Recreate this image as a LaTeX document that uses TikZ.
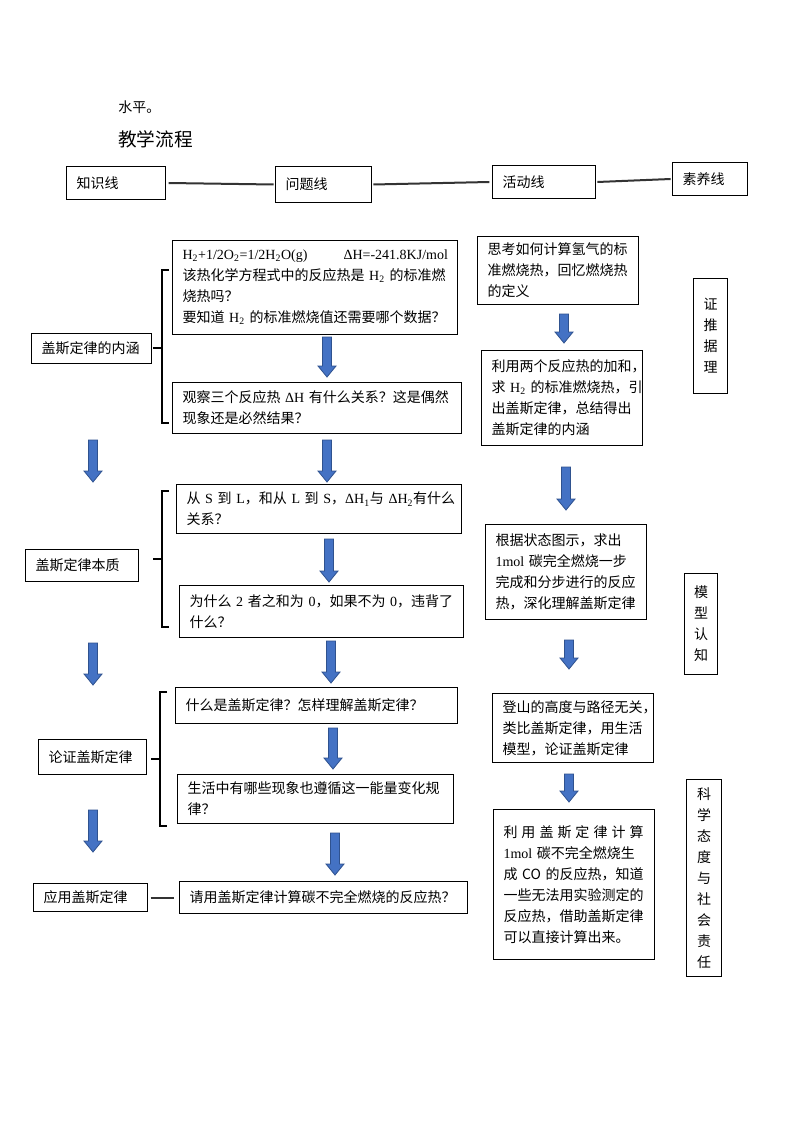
\documentclass[tikz,border=0pt]{standalone}
\usepackage{fontspec}
\setmainfont{Noto Sans CJK SC}
\newfontfamily\tm{Liberation Serif}
\definecolor{arrfill}{RGB}{68,114,196}
\definecolor{arrdraw}{RGB}{47,82,143}
\newcommand\bx[6]{%
  \pgfmathsetmacro\bxw{(#4-#2)*0.75}%
  \pgfmathsetmacro\bxh{(#5-#3)*0.75}%
  \pgfmathsetmacro\bxt{(#4-#2)*0.75-15}%
  \node[box,minimum width=\bxw pt,minimum height=\bxh pt,text width=\bxt pt,anchor=north west] (#1) at (#2,#3) {#6};}
\newcommand\cbx[6]{%
  \pgfmathsetmacro\bxw{(#4-#2)*0.75}%
  \pgfmathsetmacro\bxh{(#5-#3)*0.75}%
  \node[cbox,minimum width=\bxw pt,minimum height=\bxh pt,anchor=north west] (#1) at (#2,#3) {#6};}
\newcommand\darr[3]{%
  \draw[barr] (#1-4.5,#2) -- (#1+4.5,#2) -- (#1+4.5,#3-11) -- (#1+9,#3-11) -- (#1,#3) -- (#1-9,#3-11) -- (#1-4.5,#3-11) -- cycle;}
\begin{document}
\begin{tikzpicture}[x=0.75pt,y=-0.75pt,
  box/.style={draw=black,line width=0.75pt,inner sep=0pt,align=left,font=\fontsize{10.5}{15.75}\selectfont},
  cbox/.style={draw=black,line width=0.75pt,inner sep=0pt,align=center,font=\fontsize{10.5}{15.75}\selectfont},
  conn/.style={draw=black!80,line width=1.5pt},
  brk/.style={draw=black,line width=1.2pt},
  barr/.style={fill=arrfill,draw=arrdraw,line width=0.6pt}]
\fill[white] (0,0) rectangle (794,1123);
\useasboundingbox (0,0) rectangle (794,1123);

\node[anchor=west,inner sep=0pt,font=\fontsize{10.5}{12}\selectfont] (t0) at (118,107) {水平。};
\node[anchor=west,inner sep=0pt,font=\fontsize{14}{16}\selectfont] (t1) at (118,139) {教学流程};

% top row
\bx{zs}{66}{166}{165}{199}{知识线}
\bx{wt}{275}{166}{371}{202}{问题线}
\bx{hd}{492}{165}{595}{198}{活动线}
\bx{sy}{672}{162}{747}{195}{素养线}
\draw[conn] ([xshift=2]zs.east) -- ([xshift=-1]wt.west);
\draw[conn] ([xshift=1]wt.east) -- ([xshift=-2]hd.west);
\draw[conn] ([xshift=1]hd.east) -- ([xshift=-1]sy.west);

% left column labels
\bx{L1}{31}{333}{151}{363}{盖斯定律的内涵}
\bx{L2}{25}{549}{138}{581}{盖斯定律本质}
\bx{L3}{38}{739}{146}{774}{论证盖斯定律}
\bx{L4}{33}{883}{147}{911}{应用盖斯定律}

% question boxes
\bx{Q1}{172}{240}{457}{334}{\mbox{\tm H\textsubscript{2}+1/2O\textsubscript{2}=1/2H\textsubscript{2}O(g)\hspace{27pt}ΔH=-241.8KJ/mol}\\该热化学方程式中的反应热是~{\tm H\textsubscript{2}}~的标准燃\\烧热吗？\\要知道~{\tm H\textsubscript{2}}~的标准燃烧值还需要哪个数据？}
\bx{Q2}{172}{382}{461}{433}{观察三个反应热~{\tm ΔH}~有什么关系？这是偶然\\现象还是必然结果？}
\bx{Q3}{176}{484}{461}{533}{从~{\tm S}~到~{\tm L}，和从~{\tm L}~到~{\tm S}，{\tm ΔH\textsubscript{1}}与~{\tm ΔH\textsubscript{2}}有什么\\关系？}
\bx{Q4}{179}{585}{463}{637}{为什么~{\tm 2}~者之和为~{\tm 0}，如果不为~{\tm 0}，违背了\\什么？}
\bx{Q5}{175}{687}{457}{723}{什么是盖斯定律？怎样理解盖斯定律？}
\bx{Q6}{177}{774}{453}{823}{生活中有哪些现象也遵循这一能量变化规\\律？}
\bx{Q7}{179}{881}{467}{913}{请用盖斯定律计算碳不完全燃烧的反应热？}
\draw[conn] ([xshift=2]L4.east) -- ([xshift=-4]Q7.west);

% brackets
\draw[brk] (169,270) -- (162,270) -- (162,423) -- (169,423);
\draw[brk] (153,348) -- (162,348);
\draw[brk] (169,491) -- (162,491) -- (162,627) -- (169,627);
\draw[brk] (153,559) -- (162,559);
\draw[brk] (167,692) -- (160,692) -- (160,826) -- (167,826);
\draw[brk] (151,759) -- (160,759);

% activity boxes
\bx{A1}{477}{236}{638}{304}{思考如何计算氢气的标\\准燃烧热，回忆燃烧热\\的定义}
\bx{A2}{481}{350}{642}{445}{利用两个反应热的加和，\\求~{\tm H\textsubscript{2}}~的标准燃烧热，引\\出盖斯定律，总结得出\\盖斯定律的内涵}
\bx{A3}{485}{524}{646}{619}{根据状态图示，求出\\{\tm 1mol}~碳完全燃烧一步\\完成和分步进行的反应\\热，深化理解盖斯定律}
\bx{A4}{492}{693}{653}{762}{登山的高度与路径无关，\\类比盖斯定律，用生活\\模型，论证盖斯定律}
\bx{A5}{493}{809}{654}{959}{\makebox[10em][s]{利\hfill 用\hfill 盖\hfill 斯\hfill 定\hfill 律\hfill 计\hfill 算}\\{\tm 1mol}~碳不完全燃烧生\\成~CO~的反应热，知道\\一些无法用实验测定的\\反应热，借助盖斯定律\\可以直接计算出来。}

% literacy boxes
\cbx{S1}{693}{278}{727}{393}{证\\推\\据\\理}
\cbx{S2}{684}{573}{717}{674}{模\\型\\认\\知}
\cbx{S3}{686}{779}{721}{976}{科\\学\\态\\度\\与\\社\\会\\责\\任}

% block arrows
\darr{327}{337}{377}
\darr{93}{440}{482}
\darr{327}{440}{482}
\darr{329}{539}{582}
\darr{93}{643}{685}
\darr{331}{641}{683}
\darr{333}{728}{769}
\darr{93}{810}{852}
\darr{335}{833}{875}
\darr{564}{314}{343}
\darr{566}{467}{510}
\darr{569}{640}{669}
\darr{569}{774}{802}
\end{tikzpicture}
\end{document}
